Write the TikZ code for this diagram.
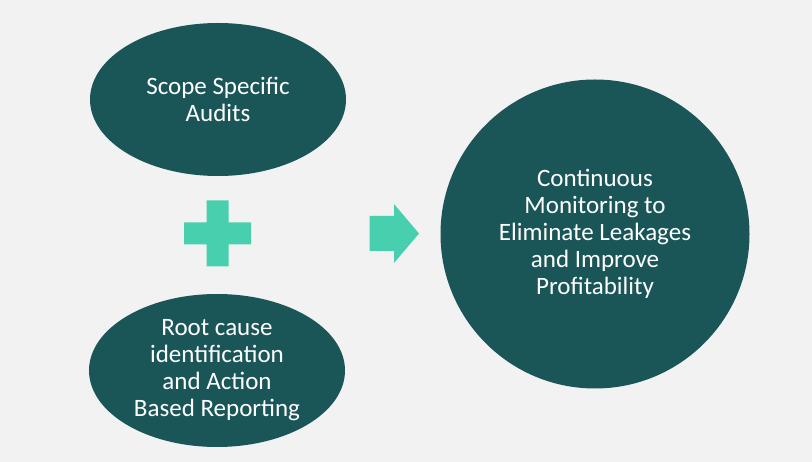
\documentclass[tikz,border=0pt]{standalone}
\usepackage{fontspec}
\setmainfont{Carlito}
\usetikzlibrary{shapes.geometric}
\definecolor{bgc}{RGB}{242,242,242}
\definecolor{teal}{RGB}{26,86,88}
\definecolor{mint}{RGB}{72,208,174}
\tikzset{
  blob/.style={fill=teal, draw=none, text=white, align=center, inner sep=0pt,
    font=\fontsize{25}{27}\selectfont},
  oval/.style={blob, ellipse, minimum width=256pt, minimum height=153pt},
  disc/.style={blob, circle, minimum size=309pt},
  mintshape/.style={fill=mint, draw=none}
}
\begin{document}
\begin{tikzpicture}[x=1pt,y=-1pt]
\fill[bgc] (0,0) rectangle (812,462);
\useasboundingbox (0,0) rectangle (812,462);
\node[oval] (scope) at (218,99.5) {Scope Specific\\Audits};
\node[oval] (root) at (217,370.5) {Root cause\\identification\\and Action\\Based Reporting};
\node[disc] (cont) at (595,234) {Continuous\\Monitoring to\\Eliminate Leakages\\and Improve\\Profitability};
% plus sign
\fill[mintshape] (206.5,200.5) -- (228.5,200.5) -- (228.5,222.5) -- (251,222.5) -- (251,244.5)
  -- (228.5,244.5) -- (228.5,266.5) -- (206.5,266.5) -- (206.5,244.5) -- (184,244.5)
  -- (184,222.5) -- (206.5,222.5) -- cycle;
% arrow
\fill[mintshape] (369.5,216) -- (394,216) -- (394,204) -- (419,233.5) -- (394,263)
  -- (394,251) -- (369.5,251) -- cycle;
\end{tikzpicture}
\end{document}
